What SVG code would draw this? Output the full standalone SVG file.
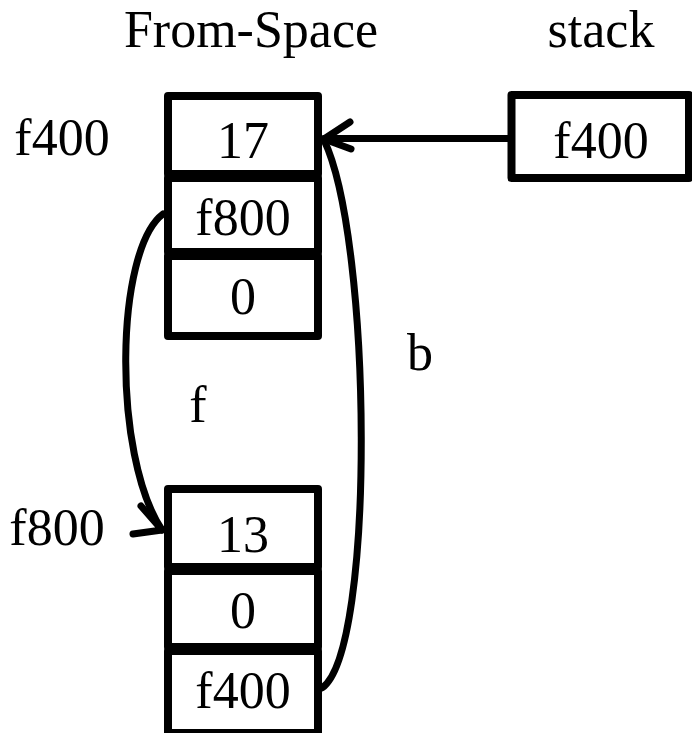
<svg xmlns="http://www.w3.org/2000/svg" width="692" height="733" viewBox="0 0 692 733">
  <style>
    .cell { fill: #fff; stroke: #000; stroke-width: 8; stroke-linejoin: round; }
    .t { font-family: "Liberation Serif", "Times New Roman", serif; font-size: 52px; fill: #000; text-anchor: middle; }
    .edge { fill: none; stroke: #000; stroke-width: 7; stroke-linecap: round; stroke-linejoin: round; }
  </style>
  <rect width="692" height="733" fill="#fff"/>

  <!-- titles -->
  <text class="t" x="251" y="47">From-Space</text>
  <text class="t" x="601" y="47">stack</text>

  <!-- address labels -->
  <text class="t" x="62" y="155">f400</text>
  <text class="t" x="57" y="545">f800</text>

  <!-- object at f400 -->
  <g id="obj-f400">
    <rect class="cell" x="168" y="96" width="150" height="78"/>
    <text class="t" x="243" y="158">17</text>
    <rect class="cell" x="168" y="178" width="150" height="74"/>
    <text class="t" x="243" y="235">f800</text>
    <rect class="cell" x="168" y="256" width="150" height="80"/>
    <text class="t" x="243" y="314">0</text>
  </g>

  <!-- object at f800 -->
  <g id="obj-f800">
    <rect class="cell" x="168" y="489" width="150" height="78"/>
    <text class="t" x="243" y="552">13</text>
    <rect class="cell" x="168" y="571" width="150" height="76"/>
    <text class="t" x="243" y="628">0</text>
    <rect class="cell" x="168" y="651" width="150" height="82"/>
    <text class="t" x="243" y="708">f400</text>
  </g>

  <!-- stack slot -->
  <g id="stack-slot">
    <rect class="cell" x="511.5" y="95" width="177.5" height="83"/>
    <text class="t" x="601" y="158">f400</text>
  </g>

  <!-- pointers -->
  <g id="connectors">
    <!-- stack -> f400 -->
    <path class="edge" d="M508,138.5 L324,138.5"/>
    <path class="edge" d="M350,122 L324,139 L351,149"/>
    <!-- forward pointer f -->
    <path class="edge" d="M163,214 C115,250 112,455 162,530"/>
    <path class="edge" d="M141,506 L162,530 L133,534"/>
    <!-- back pointer b -->
    <path class="edge" d="M322,688 C376,650 372,240 324,140"/>
  </g>

  <!-- pointer names -->
  <text class="t" x="198" y="422">f</text>
  <text class="t" x="420" y="370">b</text>
</svg>
